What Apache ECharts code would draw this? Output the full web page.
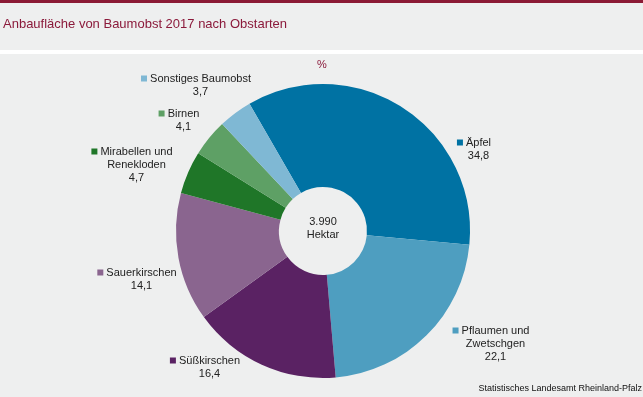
<!DOCTYPE html>
<html>
<head>
<meta charset="utf-8">
<script src="https://cdn.jsdelivr.net/npm/echarts@6/dist/echarts.min.js"></script>
<style>
  html, body { margin: 0; padding: 0; background: #eeefef; }
  #chart { width: 643px; height: 397px; }
</style>
</head>
<body>
<div id="chart"></div>
<script>
// Daten: Anteile in %
var categories = ['Äpfel', 'Pflaumen und\nZwetschgen', 'Süßkirschen', 'Sauerkirschen', 'Mirabellen und\nRenekloden', 'Birnen', 'Sonstiges Baumobst'];
var values = [34.8, 22.1, 16.4, 14.1, 4.7, 4.1, 3.7];
var colors = ['#0072a3', '#4e9ec0', '#5a2263', '#8a658f', '#1f7628', '#5ea065', '#7fb8d4'];
var totalText = '3.990\nHektar';

// Lage der Beschriftungen (Mitte x, Oberkante y)
var labelPos = [[474, 136], [491, 324], [205, 354], [137, 266], [132, 145], [179, 107], [196, 72]];

var chart = echarts.init(document.getElementById('chart'));

function fmt(v) {
    return v.toFixed(1).replace('.', ',');
}

var data = categories.map(function (name, i) {
    var lines = name.split('\n');
    var txt = '{sq' + i + '|}{t| ' + lines[0] + '}';
    for (var k = 1; k < lines.length; k++) {
        txt += '\n{sp|}{t|' + lines[k] + '}';
    }
    txt += '\n{sp|}{t|' + fmt(values[i]) + '}';
    var rich = { t: { fontSize: 11, color: '#222', lineHeight: 13, fontFamily: 'Liberation Sans, Arial' }, sp: { width: 9 } };
    rich['sq' + i] = { width: 6, height: 6, backgroundColor: colors[i] };
    return {
        name: name,
        value: values[i],
        itemStyle: { color: colors[i] },
        label: { formatter: txt, rich: rich }
    };
});

var option = {
    backgroundColor: '#eeefef',
    animation: false,
    graphic: [
        { type: 'rect', shape: { x: 0, y: 0, width: 643, height: 3 }, style: { fill: '#8b1a35' } },
        { type: 'rect', shape: { x: 0, y: 50, width: 643, height: 4 }, style: { fill: '#ffffff' } },
        {
            type: 'text', x: 323, y: 228,
            style: { text: totalText, fontSize: 11, fill: '#222', align: 'center', verticalAlign: 'middle', lineHeight: 13, fontFamily: 'Liberation Sans, Arial' }
        }
    ],
    title: [
        {
            text: 'Anbaufläche von Baumobst 2017 nach Obstarten',
            left: 3, top: 18, padding: 0,
            textStyle: { fontSize: 13, fontWeight: 'normal', color: '#8b1a3b', fontFamily: 'Liberation Sans, Arial' }
        },
        {
            text: '%',
            left: 322, top: 59, padding: 0, textAlign: 'center',
            textStyle: { fontSize: 11, fontWeight: 'normal', color: '#8b1a3b', fontFamily: 'Liberation Sans, Arial' }
        },
        {
            text: 'Statistisches Landesamt Rheinland-Pfalz',
            right: 1, top: 384, padding: 0,
            textStyle: { fontSize: 9, fontWeight: 'normal', color: '#111', fontFamily: 'Liberation Sans, Arial' }
        }
    ],
    series: [{
        type: 'pie',
        center: [323, 231],
        radius: [44, 147],
        startAngle: 120,
        clockwise: true,
        label: { show: true, position: 'outside' },
        labelLine: { show: false },
        labelLayout: function (params) {
            var p = labelPos[params.dataIndex];
            return { x: p[0], y: p[1], align: 'center', verticalAlign: 'top' };
        },
        emphasis: { disabled: true },
        data: data
    }]
};

chart.setOption(option);
</script>
</body>
</html>
